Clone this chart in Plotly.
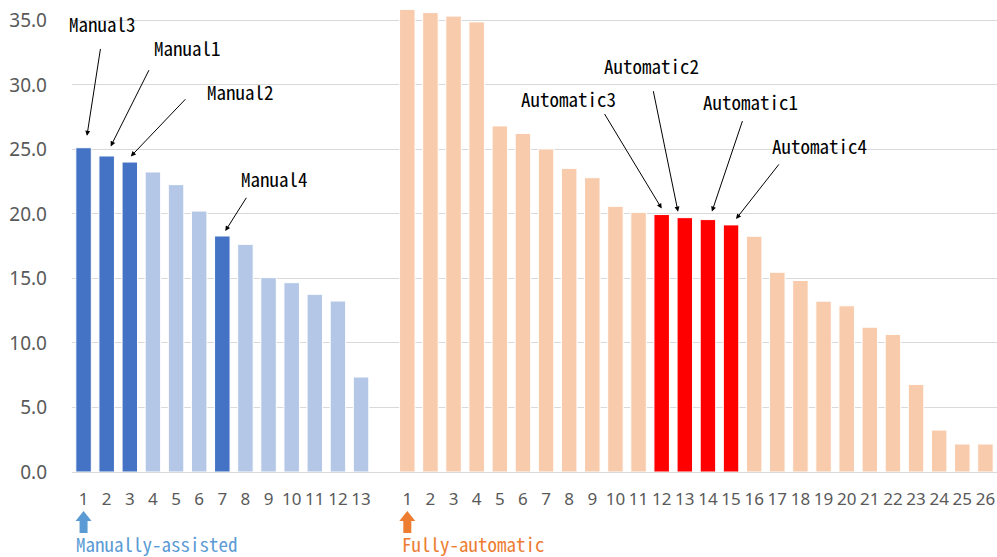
import plotly.graph_objects as go

# ---- data ----
manual_labels = [str(i) for i in range(1, 14)]
manual_values = [25.13, 24.49, 24.02, 23.25, 22.27, 20.22, 18.29, 17.64, 15.06, 14.67, 13.77, 13.25, 7.36]
auto_labels = [str(i) for i in range(1, 27)]
auto_values = [35.85, 35.60, 35.33, 34.88, 26.82, 26.24, 25.04, 23.53, 22.81, 20.59, 20.12,
               19.95, 19.71, 19.56, 19.15, 18.27, 15.48, 14.84, 13.24, 12.88, 11.22, 10.66,
               6.79, 3.25, 2.17, 2.17]
# highlighted ranks and their names
manual_marked = {1: "Manual3", 2: "Manual1", 3: "Manual2", 7: "Manual4"}
auto_marked = {12: "Automatic3", 13: "Automatic2", 14: "Automatic1", 15: "Automatic4"}
group_names = ["Manually-assisted", "Fully-automatic"]
y_ticks = [0, 5, 10, 15, 20, 25, 30, 35]

# ---- colours / styling ----
C_MAN_DARK, C_MAN_LIGHT = "#4472C4", "#B4C7E7"
C_AUTO_DARK, C_AUTO_LIGHT = "#FF0000", "#F8CBAD"
C_GROUP = ["#5B9BD5", "#ED7D31"]
XTICK_FONT = dict(family="Noto Sans, Open Sans, sans-serif", size=17, color="#595959")
YTICK_FONT = dict(family="Noto Sans, Open Sans, sans-serif", size=19, color="#595959")
MONO = "Noto Sans Mono CJK JP, Liberation Mono, DejaVu Sans Mono, monospace"

x_manual = list(range(len(manual_values)))
x_auto = [len(manual_values) + 1 + i for i in range(len(auto_values))]
n_cat = len(manual_values) + 1 + len(auto_values)

man_colors = [C_MAN_DARK if (i + 1) in manual_marked else C_MAN_LIGHT for i in range(len(manual_values))]
auto_colors = [C_AUTO_DARK if (i + 1) in auto_marked else C_AUTO_LIGHT for i in range(len(auto_values))]

fig = go.Figure()
fig.add_trace(go.Bar(x=x_manual, y=manual_values, marker=dict(color=man_colors, line=dict(color="white", width=1)),
                     hoverinfo="y", showlegend=False))
fig.add_trace(go.Bar(x=x_auto, y=auto_values, marker=dict(color=auto_colors, line=dict(color="white", width=1)),
                     hoverinfo="y", showlegend=False))

# annotation geometry (pixel offsets): (head dx, head dy, tail dx, tail dy, text dx, text dy)
man_geo = {1: (3.4, 12, 13.7, -88.3, 18.9, 124.5),
           2: (4, 9.6, 39, -77.7, 80.8, 108.8),
           3: (1, 5.6, 56, -58.7, 110.2, 70.8),
           7: (3, 5, 22, -34.7, 51.7, 57.7)}
auto_geo = {12: (0, 6, -58, -96, -93.2, 116.5),
            13: (-6.8, 6, -25, -122, -33.8, 152),
            14: (4, 8, 31, -92, 42.1, 118.5),
            15: (5, 6, 44, -56, 88.5, 79.8)}

annots = []
for marked, geo, xs, vals in [(manual_marked, man_geo, x_manual, manual_values),
                              (auto_marked, auto_geo, x_auto, auto_values)]:
    for rank, name in marked.items():
        hx, hy, ax, ay, tx, ty = geo[rank]
        xv, yv = xs[rank - 1], vals[rank - 1]
        annots.append(dict(x=xv, y=yv, xref="x", yref="y", text="", showarrow=True,
                           xshift=hx, yshift=hy, ax=ax, ay=ay, arrowhead=2, arrowsize=1,
                           arrowwidth=1, arrowcolor="#000000"))
        annots.append(dict(x=xv, y=yv, xref="x", yref="y", text=name, showarrow=False,
                           xshift=tx, yshift=ty, xanchor="center", yanchor="middle",
                           font=dict(family=MONO, size=19, color="#000000")))

# group labels below axis
shapes = []
for gi, x0 in enumerate([x_manual[0], x_auto[0]]):
    annots.append(dict(x=x0, y=0, xref="x", yref="paper", text=group_names[gi], showarrow=False,
                       xanchor="left", yanchor="middle", xshift=-9 if gi == 0 else -6, yshift=-71,
                       borderpad=0, font=dict(family=MONO, size=19, color=C_GROUP[gi])))
    shapes.append(dict(type="path", xref="x", yref="paper", xsizemode="pixel", ysizemode="pixel",
                       xanchor=x0, yanchor=0, fillcolor=C_GROUP[gi], line=dict(width=0),
                       path="M -8,-49 L 0,-39 L 8,-49 L 4,-49 L 4,-61 L -4,-61 L -4,-49 Z"))

tickvals = x_manual + x_auto
ticktext = manual_labels + auto_labels

fig.update_layout(
    width=997, height=557,
    margin=dict(l=72, r=0, t=1, b=85),
    paper_bgcolor="white", plot_bgcolor="white",
    bargap=0.33,
    annotations=annots, shapes=shapes,
    xaxis=dict(range=[-0.5, n_cat - 0.5], tickvals=tickvals, ticktext=ticktext, tickangle=0,
               showgrid=False, showline=True, linecolor="#D9D9D9", linewidth=1, ticks="",
               tickfont=XTICK_FONT, ticklabelstandoff=12, zeroline=False, fixedrange=True),
    yaxis=dict(range=[0, 36.5], tickvals=y_ticks, tickformat=".1f", showgrid=True,
               gridcolor="#D9D9D9", gridwidth=1, zeroline=False, showline=False, ticks="",
               tickfont=YTICK_FONT, ticklabelstandoff=24, fixedrange=True),
)

fig.write_html("out.html", config={"displayModeBar": False},
               post_script="document.body.style.margin='0';document.body.style.overflow='hidden';")
